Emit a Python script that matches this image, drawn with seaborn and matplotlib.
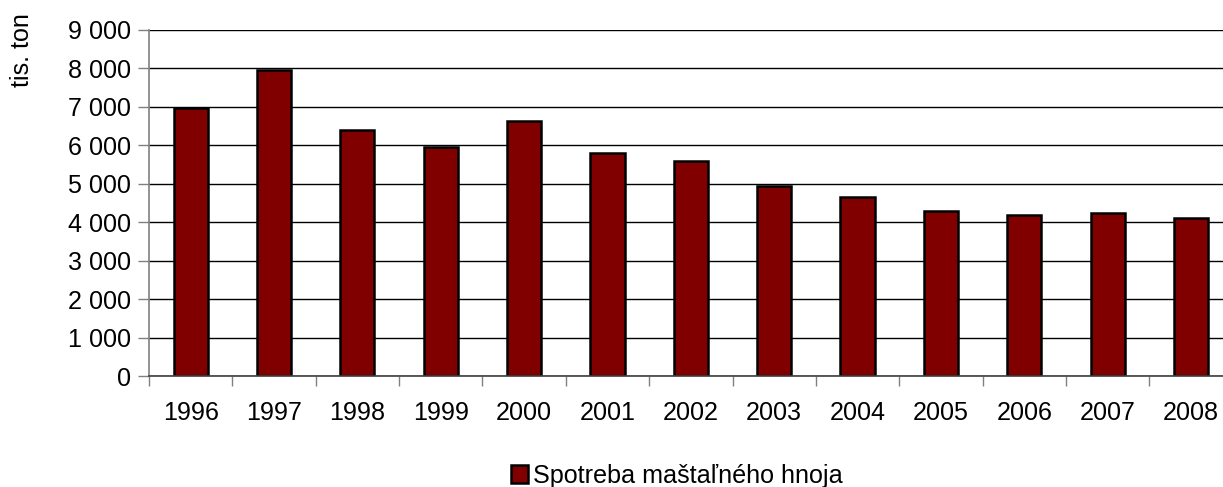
import matplotlib
matplotlib.use("Agg")
import matplotlib.pyplot as plt
import matplotlib.ticker as mticker
import seaborn as sns
import pandas as pd

# data (thousand tonnes)
years = ["1996", "1997", "1998", "1999", "2000", "2001", "2002",
         "2003", "2004", "2005", "2006", "2007", "2008"]
consumption = [6970, 7970, 6400, 5960, 6620, 5810, 5600,
               4930, 4650, 4280, 4200, 4230, 4100]
series_name = "Spotreba maštaľného hnoja"
y_label = "tis. ton"
y_ticks = [0, 1000, 2000, 3000, 4000, 5000, 6000, 7000, 8000, 9000]

df = pd.DataFrame({"year": years, "value": consumption})

sns.set_style("white")
plt.rcParams["font.family"] = ["Liberation Sans", "DejaVu Sans"]
plt.rcParams["text.color"] = "black"
plt.rcParams["xtick.color"] = "black"
plt.rcParams["ytick.color"] = "black"
fs = 18.1

fig = plt.figure(figsize=(12.23, 4.87), dpi=100)
ax = fig.add_axes([149 / 1223, 111 / 487, 1083.7 / 1223, 346 / 487])

sns.barplot(data=df, x="year", y="value", color="#800000", saturation=1,
            edgecolor="black", linewidth=1.8, width=0.41, ax=ax,
            label=series_name)

ax.set_xlim(-0.5, len(years) - 0.5)
ax.set_ylim(0, 9000)
ax.set_yticks(y_ticks)
ax.yaxis.set_major_formatter(
    mticker.FuncFormatter(lambda v, p: f"{int(v):,}".replace(",", " ")))
ax.yaxis.grid(True, color="black", linewidth=1)
ax.set_axisbelow(True)

# x ticks at category boundaries
ax.xaxis.set_minor_locator(mticker.FixedLocator([i - 0.5 for i in range(len(years) + 1)]))
ax.tick_params(axis="x", which="major", length=0, pad=18, labelsize=fs, labelcolor="black")
ax.tick_params(axis="x", which="minor", length=7, width=1, color="#808080", direction="out", bottom=True)
ax.tick_params(axis="y", which="major", length=8, width=1, color="#808080", pad=5,
               labelsize=fs, labelcolor="black", left=True)

for s in ["top", "right"]:
    ax.spines[s].set_visible(False)
ax.spines["left"].set_color("#808080")
ax.spines["left"].set_linewidth(1.2)
ax.spines["bottom"].set_color("#404040")
ax.spines["bottom"].set_linewidth(1.2)

ax.set_xlabel("")
ax.set_ylabel("")
fig.text(22 / 1223, 1 - 50 / 487, y_label, rotation=90, fontsize=fs,
         ha="center", va="center", color="black")

if ax.get_legend():
    ax.get_legend().remove()
handles, labels = ax.get_legend_handles_labels()
fig.legend(handles, labels, loc="center", bbox_to_anchor=(677 / 1223, 1 - 476 / 487),
           frameon=False, fontsize=fs, handlelength=0.7, handleheight=0.7,
           handletextpad=0.2, borderpad=0, labelcolor="black")

fig.savefig("out.png", dpi=100)
